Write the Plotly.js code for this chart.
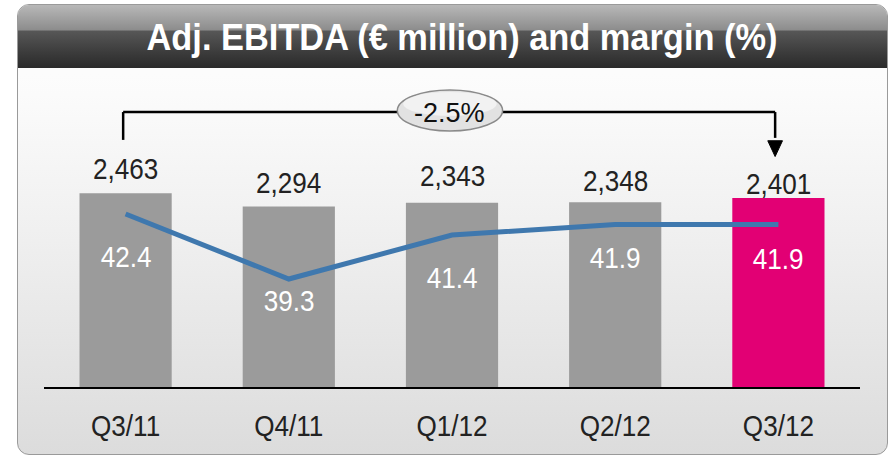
<!DOCTYPE html>
<html>
<head>
<meta charset="utf-8">
<script src="https://cdn.plot.ly/plotly-3.0.1.min.js"></script>
<style>
  html, body { margin: 0; padding: 0; background: #ffffff; }
  #wrap { position: relative; width: 891px; height: 456px; overflow: hidden; }
  #frame {
    position: absolute; left: 17px; top: 4px; width: 869px; height: 449px;
    border: 1.5px solid #9a9a9a; border-radius: 12px; overflow: hidden;
    background: linear-gradient(to bottom, #ffffff 0%, #fbfbfb 20%, #f0f0f0 50%, #dcdcdc 100%);
  }
  #bar {
    position: absolute; left: 0; top: 0; width: 100%; height: 63px;
    background: linear-gradient(to bottom, #b8b8b8 0%, #8c8c8c 40%, #575757 41%, #3c3c3c 75%, #2a2a2a 100%);
  }
  #chart { position: absolute; left: 0; top: 0; width: 891px; height: 456px; }
</style>
</head>
<body>
<div id="wrap">
  <div id="frame"><div id="bar"></div></div>
  <div id="chart"></div>
</div>
<script>
// ---- data ----
const categories = ['Q3/11', 'Q4/11', 'Q1/12', 'Q2/12', 'Q3/12'];
const ebitda = [2463, 2294, 2343, 2348, 2401];
const ebitdaLabels = ['2,463', '2,294', '2,343', '2,348', '2,401'];
const margin = [42.4, 39.3, 41.4, 41.9, 41.9];
const marginLabels = ['42.4', '39.3', '41.4', '41.9', '41.9'];
const changeLabel = '-2.5%';
const titleText = 'Adj. EBITDA (€ million) and margin (%)';

// ---- style ----
const GRAY = '#9b9b9b';
const MAGENTA = '#e20074';
const barColors = categories.map((c, i) => i === categories.length - 1 ? MAGENTA : GRAY);
const valueShift = [25, 24, 27, 22, 15];
const marginShift = [-42, -21, -42, -33, -34];
const FONT = 'Liberation Sans, Arial, Helvetica, sans-serif';
const CONDENSE = 0.87;

const traces = [
  {
    type: 'bar', x: categories, y: ebitda,
    marker: { color: barColors, line: { width: 0 } },
    hoverinfo: 'skip', showlegend: false
  },
  {
    type: 'scatter', mode: 'lines', x: categories, y: margin, yaxis: 'y2',
    line: { color: '#3f78ae', width: 5 },
    hoverinfo: 'skip', showlegend: false
  }
];

const annotations = [];
categories.forEach((c, i) => {
  annotations.push({
    xref: 'x', yref: 'y', x: c, y: ebitda[i], yanchor: 'middle', yshift: valueShift[i],
    text: ebitdaLabels[i], showarrow: false, name: 'cond',
    font: { family: FONT, size: 30, color: '#222222' }
  });
  annotations.push({
    xref: 'x', yref: 'y2', x: c, y: margin[i], yanchor: 'middle', yshift: marginShift[i],
    text: marginLabels[i], showarrow: false, name: 'cond',
    font: { family: FONT, size: 30, color: '#ffffff' }
  });
});
annotations.push({
  xref: 'paper', yref: 'paper', x: 0.497, y: 0.955, xanchor: 'center', yanchor: 'middle',
  text: changeLabel, showarrow: false, name: 'pill',
  font: { family: FONT, size: 27, color: '#111111' }
});

const xFirst = 0.5 / categories.length - 0.003;
const xLast = (categories.length - 0.5) / categories.length - 0.004;
const yTop = 0.958, yLeftEnd = 0.861, yArrowBase = 0.858, yTip = 0.803, hw = 0.009;

const shapes = [
  { type: 'line', xref: 'paper', yref: 'paper', x0: xFirst, x1: xFirst, y0: yLeftEnd, y1: yTop, line: { color: '#000', width: 2.5 } },
  { type: 'line', xref: 'paper', yref: 'paper', x0: xFirst, x1: xLast, y0: yTop, y1: yTop, line: { color: '#000', width: 2.5 } },
  { type: 'line', xref: 'paper', yref: 'paper', x0: xLast, x1: xLast, y0: yTop, y1: yArrowBase + 0.01, line: { color: '#000', width: 2.5 } },
  { type: 'path', xref: 'paper', yref: 'paper',
    path: `M ${xLast - hw},${yArrowBase} L ${xLast + hw},${yArrowBase} L ${xLast},${yTip} Z`,
    fillcolor: '#000', line: { color: '#000', width: 1 } },
  { type: 'circle', xref: 'paper', yref: 'paper', x0: 0.433, x1: 0.562, y0: 0.892, y1: 1.035,
    fillcolor: '#e2e2e2', line: { color: '#8a8a8a', width: 1.5 } },
  { type: 'circle', xref: 'paper', yref: 'paper', x0: 0.440, x1: 0.555, y0: 0.945, y1: 1.028,
    fillcolor: 'rgba(255,255,255,0.55)', line: { width: 0 } }
];

const layout = {
  width: 891, height: 456,
  margin: { l: 44, r: 31, t: 100, b: 69, pad: 0 },
  paper_bgcolor: 'rgba(0,0,0,0)', plot_bgcolor: 'rgba(0,0,0,0)',
  font: { family: FONT, color: '#222222' },
  title: {
    text: '<b>' + titleText + '</b>',
    xref: 'container', yref: 'container', x: 0.5185, y: 0.918,
    xanchor: 'center', yanchor: 'middle',
    font: { family: FONT, size: 36, color: '#ffffff' }
  },
  bargap: 0.435,
  xaxis: {
    type: 'category', range: [-0.5, categories.length - 0.5],
    showline: true, linecolor: '#000000', linewidth: 2,
    ticks: '', showgrid: false, zeroline: false, fixedrange: true,
    tickfont: { family: FONT, size: 30, color: '#222222' },
    ticklabelstandoff: 11
  },
  yaxis: { range: [0, 3648], visible: false, fixedrange: true },
  yaxis2: { range: [34.15, 47.84], overlaying: 'y', visible: false, fixedrange: true },
  annotations: annotations,
  shapes: shapes,
  showlegend: false
};

function condense(el, factor) {
  const w = el.getComputedTextLength();
  if (w > 0) {
    el.setAttribute('textLength', (w * factor).toFixed(2));
    el.setAttribute('lengthAdjust', 'spacingAndGlyphs');
  }
}

Plotly.newPlot('chart', traces, layout, { displayModeBar: false, staticPlot: true }).then(gd => {
  gd.querySelectorAll('.xtick text').forEach(el => condense(el, CONDENSE));
  gd.querySelectorAll('.annotation').forEach((g, i) => {
    const t = g.querySelector('text.annotation-text');
    if (t && i < categories.length * 2) condense(t, CONDENSE);
  });
  const tt = gd.querySelector('.gtitle');
  if (tt) condense(tt, 0.955);
});
</script>
</body>
</html>
